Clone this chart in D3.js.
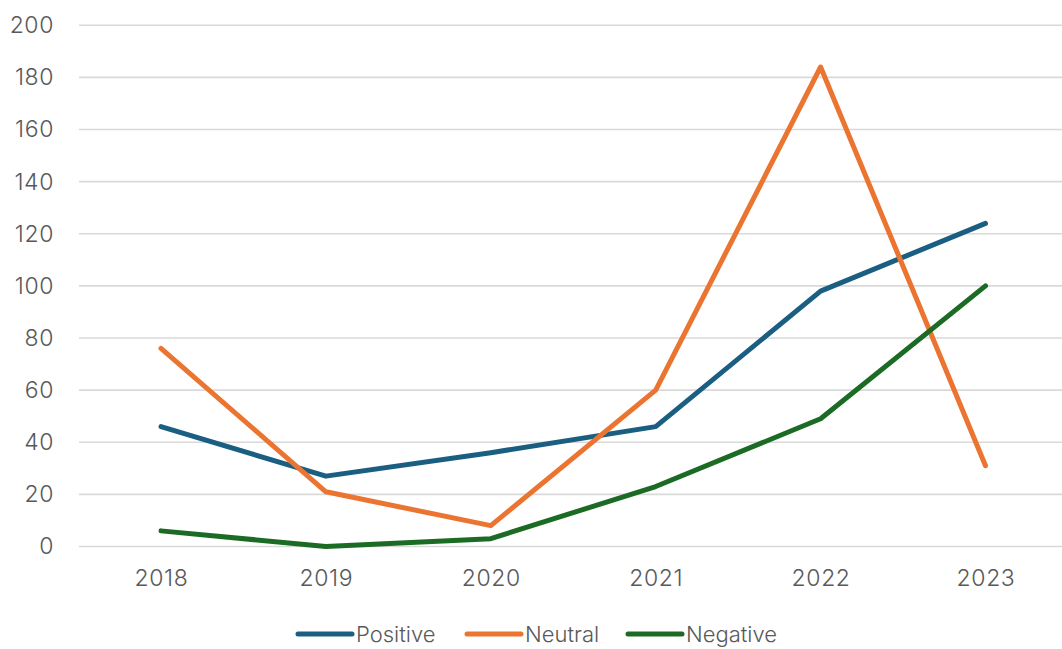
<!DOCTYPE html>
<html>
<head>
<meta charset="utf-8">
<script src="https://cdn.jsdelivr.net/npm/d3@7"></script>
<style>
  html, body { margin: 0; padding: 0; background: #ffffff; }
  svg { display: block; font-family: Inter, Lato, sans-serif; }
</style>
</head>
<body>
<svg id="chart" width="1062" height="649"></svg>
<script>
// Yearly counts by sentiment
const years = ["2018", "2019", "2020", "2021", "2022", "2023"];
const positive = [46, 27, 36, 46, 98, 124];
const neutral = [76, 21, 8, 60, 184, 31];
const negative = [6, 0, 3, 23, 49, 100];
const yTicks = [0, 20, 40, 60, 80, 100, 120, 140, 160, 180, 200];

const series = [
  { name: "Positive", values: positive, color: "#1a5e82" },
  { name: "Neutral", values: neutral, color: "#eb7530" },
  { name: "Negative", values: negative, color: "#1c6b25" }
];

const FONT = "Inter, Lato, sans-serif";
const TEXT_COLOR = "#595959";

const svg = d3.select("#chart");

const x = d3.scalePoint().domain(years).range([161, 985.5]);
const y = d3.scaleLinear().domain([0, 200]).range([546.5, 25.3]);
const gridLeft = 79, gridRight = 1068;

// horizontal gridlines
svg.append("g")
  .selectAll("line")
  .data(yTicks)
  .join("line")
  .attr("x1", gridLeft)
  .attr("x2", gridRight)
  .attr("y1", d => y(d))
  .attr("y2", d => y(d))
  .attr("stroke", "#d9d9d9")
  .attr("stroke-width", 1.6);

// y axis labels
const yAxis = d3.axisLeft(y).tickValues(yTicks).tickSize(0).tickPadding(0);
svg.append("g")
  .attr("transform", "translate(54,0)")
  .call(yAxis)
  .call(g => g.select(".domain").remove())
  .call(g => g.selectAll("text")
    .attr("fill", TEXT_COLOR)
    .attr("font-size", 23)
    .attr("font-weight", 300)
    .attr("letter-spacing", 0.6)
    .attr("font-family", FONT));

// x axis labels
const xAxis = d3.axisBottom(x).tickSize(0).tickPadding(0);
svg.append("g")
  .attr("transform", "translate(0,570)")
  .call(xAxis)
  .call(g => g.select(".domain").remove())
  .call(g => g.selectAll("text")
    .attr("fill", TEXT_COLOR)
    .attr("font-size", 23)
    .attr("font-weight", 300)
    .attr("letter-spacing", 0.6)
    .attr("font-family", FONT));

// series lines
const line = d3.line()
  .x((d, i) => x(years[i]))
  .y(d => y(d));

svg.append("g")
  .selectAll("path")
  .data(series)
  .join("path")
  .attr("d", d => line(d.values))
  .attr("fill", "none")
  .attr("stroke", d => d.color)
  .attr("stroke-width", 5)
  .attr("stroke-linecap", "round")
  .attr("stroke-linejoin", "round");

// legend
const legendX = [298, 467, 628];
const legend = svg.append("g")
  .selectAll("g")
  .data(series)
  .join("g")
  .attr("transform", (d, i) => `translate(${legendX[i]},634)`);

legend.append("line")
  .attr("x1", 0).attr("x2", 54)
  .attr("y1", 0).attr("y2", 0)
  .attr("stroke", d => d.color)
  .attr("stroke-width", 5)
  .attr("stroke-linecap", "round");

legend.append("text")
  .attr("x", 58)
  .attr("y", 0)
  .attr("dy", "0.35em")
  .attr("fill", TEXT_COLOR)
  .attr("font-size", 22)
  .attr("font-weight", 300)
  .attr("font-family", FONT)
  .text(d => d.name);
</script>
</body>
</html>
